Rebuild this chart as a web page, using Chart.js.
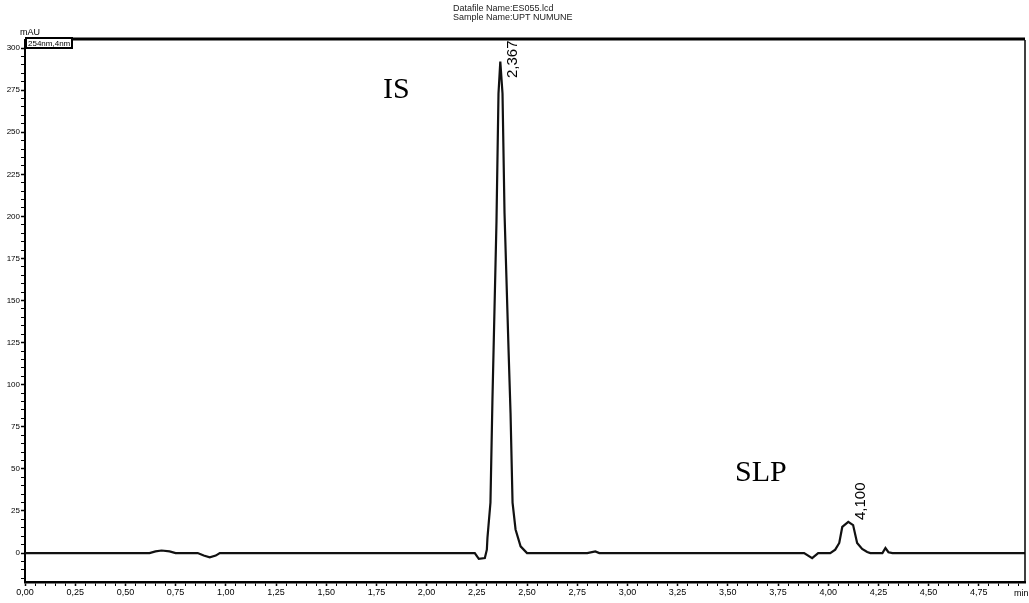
<!DOCTYPE html>
<html>
<head>
<meta charset="utf-8">
<script src="https://cdn.jsdelivr.net/npm/chart.js@4"></script>
<style>
  html, body { margin: 0; padding: 0; background: #fff; }
  canvas { display: block; }
</style>
</head>
<body>
<canvas id="chart" width="1029" height="603"></canvas>
<script>
// retention time (min) and absorbance (mAU)
const times = [0, 0.62, 0.65, 0.68, 0.72, 0.75, 0.86, 0.89, 0.92, 0.95, 0.97,
  2.24, 2.26, 2.29, 2.30, 2.303, 2.318, 2.328, 2.348, 2.358, 2.367, 2.378, 2.388,
  2.408, 2.418, 2.428, 2.443, 2.468, 2.50, 2.80, 2.84, 2.86,
  3.88, 3.92, 3.95, 4.01, 4.035, 4.055, 4.07, 4.10, 4.124, 4.144, 4.169, 4.194, 4.21,
  4.27, 4.285, 4.30, 4.32, 4.98];
const mAU = [0, 0, 1, 1.5, 1, 0, 0, -1.5, -2.5, -1.5, 0,
  0, -3.5, -3, 2, 9, 30, 92, 197, 273, 292, 273, 202,
  121, 83, 30, 14, 4, 0, 0, 1, 0,
  0, -3, 0, 0, 2, 6, 15.5, 18.5, 16.6, 6, 2.4, 0.6, 0,
  0, 3, 0.5, 0, 0];

// peak labels
const peakTimes = [2.367, 4.100];
const peakLabels = ['2,367', '4,100'];
const peakNames = ['IS', 'SLP'];

// axis ticks
const xMajorLabels = ['0,00', '0,25', '0,50', '0,75', '1,00', '1,25', '1,50', '1,75', '2,00', '2,25',
  '2,50', '2,75', '3,00', '3,25', '3,50', '3,75', '4,00', '4,25', '4,50', '4,75'];
const yMajorLabels = ['0', '25', '50', '75', '100', '125', '150', '175', '200', '225', '250', '275', '300'];

const points = times.map((t, i) => ({ x: t, y: mAU[i] }));

const decor = {
  id: 'decor',
  afterDraw(chart) {
    const { ctx, chartArea: a, scales: { x, y } } = chart;
    ctx.save();
    // frame top + right
    ctx.strokeStyle = '#000';
    ctx.lineWidth = 3;
    ctx.beginPath(); ctx.moveTo(a.left, a.top - 1); ctx.lineTo(a.right, a.top - 1); ctx.stroke();
    ctx.lineWidth = 1.5;
    ctx.beginPath(); ctx.moveTo(a.right, a.top); ctx.lineTo(a.right, a.bottom); ctx.stroke();

    // header
    ctx.fillStyle = '#222';
    ctx.font = '9px "Liberation Sans", Arial, sans-serif';
    ctx.textAlign = 'left';
    ctx.textBaseline = 'alphabetic';
    ctx.fillText('Datafile Name:ES055.lcd', 453, 11);
    ctx.fillText('Sample Name:UPT NUMUNE', 453, 20);

    // unit + channel box
    ctx.fillStyle = '#000';
    ctx.fillText('mAU', 20, 35);
    ctx.fillStyle = '#fff';
    ctx.fillRect(a.left + 1, a.top - 2, 46, 10);
    ctx.lineWidth = 2;
    ctx.strokeRect(a.left + 1, a.top - 2, 46, 10);
    ctx.fillStyle = '#000';
    ctx.font = '8px "Liberation Sans", Arial, sans-serif';
    ctx.fillText('254nm,4nm', a.left + 3, a.top + 6);

    // "min" at the end of the time axis
    ctx.font = '9px "Liberation Sans", Arial, sans-serif';
    ctx.fillText('min', a.right - 11, a.bottom + 14);

    // peak retention labels (rotated)
    ctx.font = '15px "Liberation Sans", Arial, sans-serif';
    const labelY = [78, 520];
    peakTimes.forEach((t, i) => {
      const px = x.getPixelForValue(t);
      ctx.save();
      ctx.translate(px + 17, labelY[i]);
      ctx.rotate(-Math.PI / 2);
      ctx.fillText(peakLabels[i], 0, 0);
      ctx.restore();
    });

    // compound names
    ctx.font = '30px "Liberation Serif", "Times New Roman", serif';
    ctx.fillText(peakNames[0], 383, 98);
    ctx.fillText(peakNames[1], 735, 481);
    ctx.restore();
  }
};

new Chart(document.getElementById('chart'), {
  type: 'line',
  data: {
    datasets: [{
      data: points,
      borderColor: '#111',
      borderWidth: 2.2,
      pointRadius: 0,
      tension: 0,
      fill: false
    }]
  },
  options: {
    responsive: false,
    animation: false,
    layout: { padding: { top: 40, right: 4, left: 0, bottom: 0 } },
    plugins: { legend: { display: false }, tooltip: { enabled: false } },
    scales: {
      x: {
        type: 'linear',
        min: 0,
        max: 4.98,
        afterFit: s => { s.height = 21; },
        afterBuildTicks: s => {
          const ticks = [];
          for (let i = 0; i < 100; i++) ticks.push({ value: i * 0.05 });
          s.ticks = ticks;
        },
        ticks: {
          autoSkip: false,
          maxRotation: 0,
          padding: 1,
          color: '#000',
          font: { family: '"Liberation Sans", Arial, sans-serif', size: 9 },
          callback: (v) => {
            const k = Math.round(v * 100);
            return k % 25 === 0 ? xMajorLabels[k / 25] : '';
          }
        },
        grid: {
          drawOnChartArea: false,
          tickLength: 4,
          tickColor: '#000',
          tickWidth: c => (Math.round(c.tick.value * 100) % 25 === 0 ? 1.5 : 1)
        },
        border: { color: '#000', width: 2.5 }
      },
      y: {
        type: 'linear',
        min: -17.2,
        max: 304.8,
        afterFit: s => { s.width = 25; },
        afterBuildTicks: s => {
          const ticks = [];
          for (let v = -15; v <= 300; v += 5) ticks.push({ value: v });
          s.ticks = ticks;
        },
        ticks: {
          autoSkip: false,
          padding: 1,
          color: '#000',
          font: { family: '"Liberation Sans", Arial, sans-serif', size: 8 },
          callback: (v) => (v >= 0 && v % 25 === 0 ? yMajorLabels[v / 25] : '')
        },
        grid: {
          drawOnChartArea: false,
          tickLength: 4,
          tickColor: '#000',
          tickWidth: c => (c.tick.value % 25 === 0 ? 1.5 : 1)
        },
        border: { color: '#000', width: 2 }
      }
    }
  },
  plugins: [decor]
});
</script>
</body>
</html>
